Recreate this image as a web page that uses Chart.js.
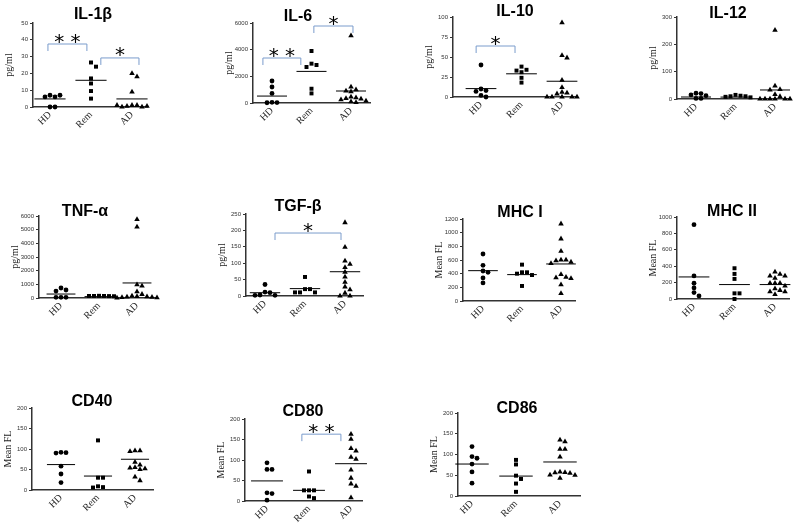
<!DOCTYPE html>
<html>
<head>
<meta charset="utf-8">
<script src="https://cdn.jsdelivr.net/npm/chart.js@4"></script>
<style>
  body { margin: 0; background: #fff; }
  #wrap { position: relative; width: 800px; height: 528px; overflow: hidden; background: #fff; }
  #wrap canvas { position: absolute; }
</style>
</head>
<body>
<div id="wrap"></div>
<script>
const groups = ["HD", "Rem", "AD"];

// values, one array per group
const il1bHD = [7, 6, 6, 7, 0, 0];
const il1bRem = [26.5, 24, 17, 14, 9.5, 5];
const il1bAD = [20, 18, 9, 1, 1, 0.5, 0, 0, 0.5, 1, 0];
const il1bMean = [4.8, 15.9, 4.8];
const il1bSig = [[0.95, 1.9, 37.5, "* *"], [2.24, 3.17, 29.2, "*"]];

const il6HD = [1650, 1200, 720, 50, 30, 20];
const il6Rem = [3900, 2950, 2850, 2700, 1070, 720];
const il6AD = [5050, 1200, 1000, 900, 850, 450, 400, 350, 300, 250, 150, 100, 50];
const il6Mean = [520, 2370, 900];
const il6Sig = [[0.77, 1.73, 3375, "* *"], [2.06, 3.05, 5775, "*"]];

const il10HD = [40, 10, 8, 7, 2, 0];
const il10Rem = [38, 34, 33, 31, 24, 18];
const il10AD = [93, 52, 49, 21, 12, 6, 5, 4, 0, 0, 0, 0, 0];
const il10Mean = [10.5, 29, 19.7];
const il10Sig = [[0.88, 1.84, 63.75, "*"]];

const il12HD = [21, 20, 15, 12, 2, 2];
const il12Rem = [15, 12, 10, 10, 8, 6];
const il12AD = [252, 48, 35, 33, 17, 9, 0, 0, 0, 0, 0, 0];
const il12Mean = [7.3, 7, 33];

const tnfHD = [730, 585, 510, 50, 50, 50];
const tnfRem = [160, 150, 150, 140, 150, 130];
const tnfAD = [5750, 5200, 975, 880, 460, 270, 150, 120, 100, 80, 60, 40, 20, 0];
const tnfMean = [290, 100, 1100];

const tgfHD = [35, 12, 10, 3, 2, 2];
const tgfRem = [58, 21, 21, 11, 11, 11];
const tgfAD = [224, 149, 107, 97, 87, 73, 58, 42, 28, 19, 9, 0, 0];
const tgfMean = [10, 22.5, 74];
const tgfSig = [[1.25, 2.9, 192, "*"]];

const mhc1HD = [688, 522, 439, 420, 337, 264];
const mhc1Rem = [532, 420, 420, 400, 380, 220];
const mhc1AD = [1130, 910, 730, 600, 600, 590, 570, 550, 390, 350, 340, 330, 240, 110];
const mhc1Mean = [444, 386, 542];

const mhc2HD = [906, 282, 192, 135, 78, 37];
const mhc2Rem = [375, 306, 245, 69, 69, 0];
const mhc2AD = [330, 302, 282, 282, 253, 192, 192, 192, 159, 127, 106, 90, 90, 57];
const mhc2Mean = [269, 176, 176];

const cd40HD = [92, 91, 90, 58, 39, 18];
const cd40Rem = [121, 30, 30, 9, 7, 6];
const cd40AD = [96, 96, 94, 68, 61, 55, 54, 52, 50, 32, 23];
const cd40Mean = [62, 34, 75];

const cd80HD = [93, 77, 77, 20, 18, 2];
const cd80Rem = [72, 26, 26, 26, 11, 7];
const cd80AD = [163, 151, 128, 122, 107, 102, 76, 56, 42, 36, 8];
const cd80Mean = [49, 26, 91];
const cd80Sig = [[1.83, 2.76, 163, "* *"]];

const cd86HD = [119, 95, 91, 77, 58, 31];
const cd86Rem = [87, 76, 49, 41, 30, 10];
const cd86AD = [135, 131, 113, 113, 94, 58, 57, 56, 55, 51, 50, 43];
const cd86Mean = [77, 48, 82];

// panel placement on the page (pixels)
const panels = [
  { title: "IL-1β", unit: "pg/ml", yMax: 50, step: 10, sets: [il1bHD, il1bRem, il1bAD], means: il1bMean, sig: il1bSig,
    box: { ax: 33, top: 23, y0: 107, xEnd: 147, c1: 50, c3: 132, tx: 93, ty: 15 } },
  { title: "IL-6", unit: "pg/ml", yMax: 6000, step: 2000, sets: [il6HD, il6Rem, il6AD], means: il6Mean, sig: il6Sig,
    box: { ax: 253, top: 23, y0: 103, xEnd: 370, c1: 272, c3: 351, tx: 298, ty: 17 } },
  { title: "IL-10", unit: "pg/ml", yMax: 100, step: 25, sets: [il10HD, il10Rem, il10AD], means: il10Mean, sig: il10Sig,
    box: { ax: 453, top: 17, y0: 97, xEnd: 575, c1: 481, c3: 562, tx: 515, ty: 12 } },
  { title: "IL-12", unit: "pg/ml", yMax: 300, step: 100, sets: [il12HD, il12Rem, il12AD], means: il12Mean, sig: [],
    box: { ax: 677, top: 17, y0: 99, xEnd: 788, c1: 696, c3: 775, tx: 728, ty: 14 } },
  { title: "TNF-α", unit: "pg/ml", yMax: 6000, step: 1000, sets: [tnfHD, tnfRem, tnfAD], means: tnfMean, sig: [],
    box: { ax: 39, top: 216, y0: 298, xEnd: 155, c1: 61, c3: 137, tx: 85, ty: 212 } },
  { title: "TGF-β", unit: "pg/ml", yMax: 250, step: 50, sets: [tgfHD, tgfRem, tgfAD], means: tgfMean, sig: tgfSig,
    box: { ax: 246, top: 214, y0: 296, xEnd: 363, c1: 265, c3: 345, tx: 298, ty: 207 } },
  { title: "MHC I", unit: "Mean FL", yMax: 1200, step: 200, sets: [mhc1HD, mhc1Rem, mhc1AD], means: mhc1Mean, sig: [],
    box: { ax: 463, top: 219, y0: 301, xEnd: 575, c1: 483, c3: 561, tx: 520, ty: 213 } },
  { title: "MHC II", unit: "Mean FL", yMax: 1000, step: 200, sets: [mhc2HD, mhc2Rem, mhc2AD], means: mhc2Mean, sig: [],
    box: { ax: 677, top: 217, y0: 299, xEnd: 789, c1: 694, c3: 775, tx: 732, ty: 212 } },
  { title: "CD40", unit: "Mean FL", yMax: 200, step: 50, sets: [cd40HD, cd40Rem, cd40AD], means: cd40Mean, sig: [],
    box: { ax: 32, top: 408, y0: 490, xEnd: 153, c1: 61, c3: 135, tx: 92, ty: 402 } },
  { title: "CD80", unit: "Mean FL", yMax: 200, step: 50, sets: [cd80HD, cd80Rem, cd80AD], means: cd80Mean, sig: cd80Sig,
    box: { ax: 245, top: 419, y0: 501, xEnd: 362, c1: 267, c3: 351, tx: 303, ty: 412 } },
  { title: "CD86", unit: "Mean FL", yMax: 200, step: 50, sets: [cd86HD, cd86Rem, cd86AD], means: cd86Mean, sig: [],
    box: { ax: 458, top: 413, y0: 496, xEnd: 580, c1: 472, c3: 560, tx: 517, ty: 409 } },
];

const shapes = [
  { style: "circle", r: 2.4 },
  { style: "rect", r: 2.8 },
  { style: "triangle", r: 3.2 },
];

// simple beeswarm so points with close values sit side by side
const swarm = (values, plotH, yMax, spPx) => {
  const placed = [];
  return values.map((v) => {
    const yp = (v / yMax) * plotH;
    let off = 0;
    for (let k = 0; k < 30; k++) {
      const o = (k % 2 ? 1 : -1) * Math.ceil(k / 2) * 5;
      if (!placed.some((p) => Math.abs(p.y - yp) < 4.5 && Math.abs(p.x - o) < 4.5)) {
        off = o;
        break;
      }
    }
    placed.push({ x: off, y: yp });
    return off / spPx;
  });
};

const L = 30, T = 28, B = 34, R = 8;
const wrap = document.getElementById("wrap");

const drawPanel = (p) => {
  const b = p.box;
  const canvas = document.createElement("canvas");
  canvas.width = b.xEnd - b.ax + L + R;
  canvas.height = b.y0 - b.top + T + B;
  canvas.style.left = b.ax - L + "px";
  canvas.style.top = b.top - T + "px";
  wrap.appendChild(canvas);

  const sp = (b.c3 - b.c1) / 2;
  const xMin = 1 - (b.c1 - b.ax) / sp;
  const xMax = 3 + (b.xEnd - b.c3) / sp;
  const plotH = b.y0 - b.top;

  const datasets = [];
  p.sets.forEach((vals, i) => {
    const offs = swarm(vals, plotH, p.yMax, sp);
    datasets.push({
      type: "scatter",
      data: vals.map((v, j) => ({ x: i + 1 + offs[j], y: v })),
      pointStyle: shapes[i].style,
      pointRadius: shapes[i].r,
      backgroundColor: "#000",
      borderColor: "#000",
      borderWidth: 0,
      clip: false,
    });
  });
  p.means.forEach((m, i) => {
    datasets.push({
      type: "line",
      data: [{ x: i + 1 - 0.38, y: m }, { x: i + 1 + 0.38, y: m }],
      borderColor: "#000",
      borderWidth: 1,
      pointRadius: 0,
      clip: false,
    });
  });

  const overlay = {
    id: "overlay",
    afterDraw(chart) {
      const ctx = chart.ctx;
      const xs = chart.scales.x, ys = chart.scales.y;
      ctx.save();
      // title
      ctx.fillStyle = "#000";
      ctx.font = "bold 16px 'Liberation Sans', Arial, sans-serif";
      ctx.textAlign = "center";
      ctx.textBaseline = "middle";
      ctx.fillText(p.title, b.tx - (b.ax - L), b.ty - (b.top - T));
      // significance brackets
      p.sig.forEach(([a, c, y, label]) => {
        const x1 = xs.getPixelForValue(a), x2 = xs.getPixelForValue(c);
        const yp = ys.getPixelForValue(y);
        ctx.strokeStyle = "#7a9ccc";
        ctx.lineWidth = 1;
        ctx.beginPath();
        ctx.moveTo(x1, yp + 7);
        ctx.lineTo(x1, yp);
        ctx.lineTo(x2, yp);
        ctx.lineTo(x2, yp + 7);
        ctx.stroke();
        ctx.font = "20px 'DejaVu Sans', sans-serif";
        ctx.textBaseline = "alphabetic";
        const m = ctx.measureText(label);
        const base = yp - 6 + (m.actualBoundingBoxAscent - m.actualBoundingBoxDescent) / 2;
        ctx.fillText(label, (x1 + x2) / 2, base);
      });
      ctx.restore();
    },
  };

  new Chart(canvas.getContext("2d"), {
    data: { datasets },
    options: {
      responsive: false,
      animation: false,
      devicePixelRatio: 1,
      layout: { autoPadding: false, padding: { top: T, right: R, left: 0, bottom: 0 } },
      plugins: { legend: { display: false }, tooltip: { enabled: false } },
      scales: {
        x: {
          type: "linear",
          min: xMin,
          max: xMax,
          afterBuildTicks: (s) => {
            s.ticks = [1, 2, 3].map((v) => ({ value: v }));
          },
          afterFit: (s) => {
            s.height = B;
          },
          ticks: {
            autoSkip: false,
            minRotation: 45,
            maxRotation: 45,
            padding: 2,
            color: "#222",
            font: { family: "'Liberation Serif', serif", size: 10 },
            callback: (v) => groups[Math.round(v) - 1],
          },
          grid: { display: true, drawOnChartArea: false, drawTicks: false },
          border: { display: true, color: "#333", width: 1.5 },
        },
        y: {
          type: "linear",
          min: 0,
          max: p.yMax,
          afterFit: (s) => {
            s.width = L;
          },
          ticks: {
            stepSize: p.step,
            padding: 2,
            color: "#333",
            font: { family: "'Liberation Sans', Arial, sans-serif", size: 6 },
            callback: (v) => String(v),
          },
          grid: { drawOnChartArea: false, drawTicks: true, tickLength: 3, color: "#333" },
          border: { display: true, color: "#333", width: 1.5 },
          title: {
            display: true,
            text: p.unit,
            color: "#222",
            padding: { top: 0, bottom: 2 },
            font: { family: "'Liberation Serif', serif", size: 10 },
          },
        },
      },
    },
    plugins: [overlay],
  });
};

panels.forEach(drawPanel);
</script>
</body>
</html>
